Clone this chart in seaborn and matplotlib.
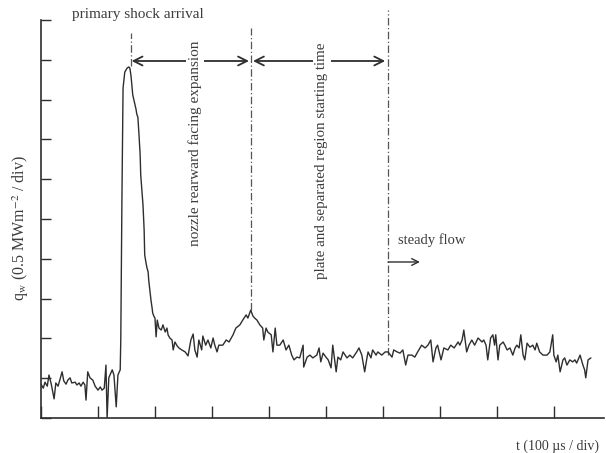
import numpy as np
import pandas as pd
import matplotlib
matplotlib.use("Agg")
import matplotlib.pyplot as plt
import seaborn as sns

# time in divisions (100 us / div), heat flux in divisions (0.5 MW/m^2 / div)
t_div = [
    0.00, 0.04, 0.07, 0.11, 0.14, 0.18, 0.23, 0.26, 0.30, 0.33,
    0.37, 0.40, 0.44, 0.47, 0.51, 0.54, 0.60, 0.63, 0.67, 0.70,
    0.74, 0.77, 0.79, 0.82, 0.86, 0.91, 0.95, 1.00, 1.04, 1.07,
    1.11, 1.14, 1.16, 1.19, 1.21, 1.25, 1.28, 1.32, 1.35, 1.39,
    1.40, 1.42, 1.44, 1.47, 1.51, 1.54, 1.56, 1.58, 1.60, 1.61,
    1.63, 1.65, 1.67, 1.68, 1.70, 1.72, 1.74, 1.75, 1.77, 1.79,
    1.81, 1.82, 1.84, 1.86, 1.88, 1.89, 1.91, 1.93, 1.95, 1.96,
    1.98, 2.00, 2.02, 2.04, 2.07, 2.11, 2.14, 2.18, 2.21, 2.23,
    2.26, 2.30, 2.32, 2.35, 2.39, 2.42, 2.47, 2.53, 2.58, 2.63,
    2.67, 2.70, 2.74, 2.77, 2.82, 2.84, 2.89, 2.93, 2.98, 3.02,
    3.05, 3.09, 3.12, 3.19, 3.25, 3.30, 3.37, 3.42, 3.49, 3.54,
    3.60, 3.63, 3.68, 3.72, 3.75, 3.79, 3.84, 3.89, 3.91, 3.95,
    3.98, 4.04, 4.07, 4.11, 4.14, 4.19, 4.25, 4.30, 4.35, 4.40,
    4.44, 4.49, 4.54, 4.60, 4.61, 4.67, 4.72, 4.77, 4.84, 4.88,
    4.91, 4.95, 5.00, 5.04, 5.09, 5.12, 5.18, 5.21, 5.26, 5.30,
    5.37, 5.42, 5.47, 5.54, 5.58, 5.63, 5.68, 5.72, 5.74, 5.79,
    5.82, 5.88, 5.91, 5.98, 6.04, 6.09, 6.16, 6.19, 6.25, 6.30,
    6.35, 6.40, 6.44, 6.51, 6.56, 6.61, 6.68, 6.74, 6.79, 6.84,
    6.88, 6.93, 6.96, 7.02, 7.07, 7.14, 7.19, 7.25, 7.32, 7.35,
    7.39, 7.42, 7.47, 7.51, 7.56, 7.61, 7.67, 7.74, 7.77, 7.81,
    7.84, 7.89, 7.93, 7.96, 7.98, 8.02, 8.05, 8.11, 8.14, 8.18,
    8.23, 8.28, 8.32, 8.35, 8.39, 8.42, 8.46, 8.49, 8.53, 8.58,
    8.63, 8.67, 8.70, 8.75, 8.81, 8.88, 8.93, 8.98, 9.00, 9.04,
    9.07, 9.11, 9.16, 9.19, 9.23, 9.28, 9.33, 9.37, 9.40, 9.46,
    9.51, 9.54, 9.56, 9.60, 9.65,
]
q_div = [
    0.85, 0.75, 0.90, 0.80, 1.08, 0.85, 0.48, 0.88, 0.80, 0.95,
    1.16, 0.93, 0.85, 0.95, 1.01, 0.88, 0.90, 0.83, 0.88, 0.80,
    0.90, 0.83, 0.45, 1.16, 1.01, 0.95, 0.80, 0.70, 0.78, 0.70,
    0.75, 1.33, 0.00, 1.01, 1.08, 1.21, 1.08, 0.28, 1.08, 1.21,
    1.96, 5.48, 8.29, 8.69, 8.79, 8.82, 8.79, 8.59, 8.29, 8.12,
    7.99, 7.86, 7.74, 7.64, 7.56, 7.11, 6.61, 6.11, 5.73, 5.35,
    4.72, 4.10, 3.92, 3.77, 3.67, 3.47, 3.22, 2.96, 2.76, 2.64,
    2.56, 2.51, 2.04, 2.46, 2.26, 2.21, 2.34, 2.16, 2.26, 2.09,
    2.01, 1.96, 1.71, 1.91, 1.81, 1.76, 1.71, 1.66, 1.56, 1.96,
    2.11, 1.71, 1.53, 1.96, 1.71, 2.06, 1.83, 1.96, 1.76, 2.01,
    1.83, 1.66, 1.83, 1.83, 1.96, 1.91, 2.09, 2.26, 2.34, 2.46,
    2.59, 2.51, 2.71, 2.56, 2.51, 2.46, 2.34, 2.26, 1.96, 2.26,
    2.16, 2.09, 1.66, 2.26, 1.83, 1.83, 1.96, 1.71, 1.83, 1.58,
    1.46, 1.53, 1.51, 1.83, 1.28, 1.53, 1.58, 1.51, 1.58, 1.76,
    1.41, 1.63, 1.53, 1.46, 1.26, 1.83, 1.16, 1.53, 1.46, 1.66,
    1.51, 1.58, 1.51, 1.66, 1.76, 1.58, 1.16, 1.51, 1.66, 1.51,
    1.71, 1.58, 1.66, 1.58, 1.66, 1.66, 1.53, 1.71, 1.66, 1.63,
    1.71, 1.33, 1.58, 1.58, 1.53, 1.66, 1.83, 1.76, 1.83, 1.96,
    1.41, 1.76, 1.83, 1.46, 1.76, 1.71, 1.83, 1.76, 1.91, 1.83,
    1.96, 2.21, 1.66, 1.83, 1.96, 1.83, 2.01, 1.91, 1.96, 1.83,
    1.46, 2.01, 2.09, 1.83, 2.09, 1.46, 1.83, 1.91, 1.83, 1.71,
    1.76, 1.58, 1.76, 1.83, 1.76, 2.09, 1.58, 1.46, 1.88, 1.78,
    1.83, 1.71, 1.88, 1.66, 1.58, 1.58, 1.66, 2.09, 1.58, 1.41,
    1.58, 1.16, 1.46, 1.51, 1.33, 1.46, 1.41, 1.46, 1.38, 1.58,
    1.33, 1.21, 1.01, 1.46, 1.51,
]

# event markers (dash-dot lines) and their vertical extent
event_t = [1.58, 3.68, 6.09]
event_lo = [8.84, 2.71, 1.58]
event_hi = [9.67, 9.80, 10.25]

sns.set_style("ticks")
plt.rcParams['font.family'] = ['Liberation Serif', 'DejaVu Serif']
plt.rcParams['mathtext.fontset'] = 'stix'

ink = '#2e2e2e'
txt = '#3c3c3c'

fig = plt.figure(figsize=(6.06, 4.53), dpi=100)
ax = fig.add_axes([41 / 606, 35 / 453, 563 / 606, 398 / 453])

df = pd.DataFrame({'t': t_div, 'q': q_div})
sns.lineplot(data=df, x='t', y='q', ax=ax, color=ink, lw=1.0,
             estimator=None, sort=False)

ax.set_xlim(0, 9.88)
ax.set_ylim(0, 10)
ax.set_xticks(np.arange(0, 10))
ax.set_yticks(np.arange(0, 11))
ax.set_xticklabels([])
ax.set_yticklabels([])
ax.tick_params(axis='x', direction='in', length=8.5, width=1.0, color=ink)
ax.tick_params(axis='y', direction='in', length=7.2, width=1.0, color=ink)
ax.set_xlabel('')
ax.set_ylabel('')
sns.despine(ax=ax)
for s in ['left', 'bottom']:
    ax.spines[s].set_color(ink)
    ax.spines[s].set_linewidth(1.2)

# dash-dot event lines
for xe, lo, hi in zip(event_t, event_lo, event_hi):
    ax.plot([xe, xe], [lo, hi], color='#555555', lw=0.9,
            ls=(0, (6, 2, 1, 2)), clip_on=False, zorder=1)

# arrows between events
arrow_y = 8.97
arr = dict(arrowstyle='<->', color=ink, lw=1.3, mutation_scale=16,
           shrinkA=0, shrinkB=0)
ax.annotate('', xy=(3.65, arrow_y), xytext=(1.59, arrow_y), arrowprops=arr, zorder=2)
ax.annotate('', xy=(6.04, arrow_y), xytext=(3.72, arrow_y), arrowprops=arr, zorder=2)
ax.annotate('', xy=(6.65, 3.92), xytext=(6.09, 3.92),
            arrowprops=dict(arrowstyle='->', color=ink, lw=1.0,
                            mutation_scale=12, shrinkA=0, shrinkB=0))

box = dict(facecolor='white', edgecolor='none', pad=1.5)
ax.text(2.70, 6.90, 'nozzle rearward facing expansion', rotation=90,
        ha='center', va='center', fontsize=11, color=txt, bbox=box, zorder=3)
ax.text(4.93, 6.46, 'plate and separated region starting time', rotation=90,
        ha='center', va='center', fontsize=10.8, color=txt, bbox=box, zorder=3)
ax.text(6.26, 4.47, 'steady flow', ha='left', va='center',
        fontsize=10.5, color=txt)
ax.text(0.54, 10.15, 'primary shock arrival', ha='left', va='center',
        fontsize=11, color=txt, clip_on=False)

fig.text(21 / 606, 1 - 228 / 453, r'q$_{\rm w}$ (0.5 MWm$^{-2}$ / div)',
         rotation=90, ha='center', va='center', fontsize=11.5, color=txt)
fig.text(599 / 606, 1 - 446 / 453, 't (100 µs / div)',
         ha='right', va='center', fontsize=10, color=txt)

fig.savefig('out.png', dpi=100, facecolor='white')
